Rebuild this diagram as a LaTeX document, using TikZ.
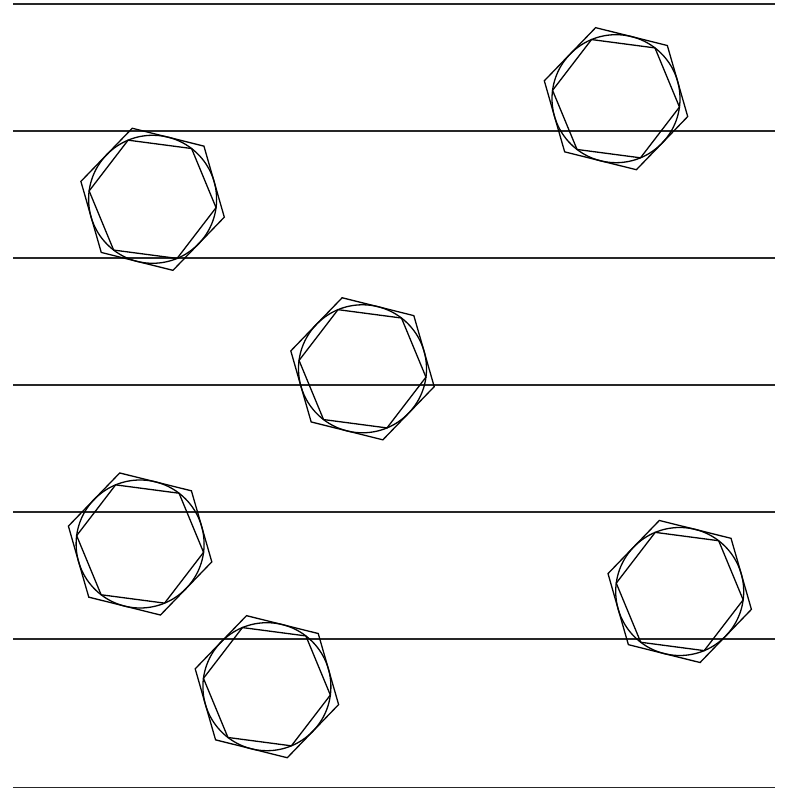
\documentclass[tikz,border=0pt]{standalone}
\begin{document}
\begin{tikzpicture}[x=1pt,y=1pt,
  shapeline/.style={draw=black,line width=1.3pt,line join=miter},
  rule/.style={draw=black!85,line width=1.6pt},
  nut/.pic={
    \draw[shapeline] (0,0) circle[radius=64pt];
    \draw[shapeline] (-7.5:64pt) -- (52.5:64pt) -- (112.5:64pt) -- (172.5:64pt) -- (232.5:64pt) -- (292.5:64pt) -- cycle;
    \draw[shapeline] (-14:73.9pt) -- (46:73.9pt) -- (106:73.9pt) -- (166:73.9pt) -- (226:73.9pt) -- (286:73.9pt) -- cycle;
  }]
\useasboundingbox (0,0) rectangle (786,789);
% horizontal rules
\foreach \y in {785,658,531,404,277,150,1.5}{
  \draw[rule] (13.3,\y) -- (775,\y);
}
% shape centres
\coordinate (c1) at (152.6,589.7);
\coordinate (c2) at (362.5,420.2);
\coordinate (c3) at (616,690.3);
\coordinate (c4) at (140.1,245);
\coordinate (c5) at (266.9,102.3);
\coordinate (c6) at (679.7,197.5);
\foreach \c in {c1,c2,c3,c4,c5,c6}{
  \pic at (\c) {nut};
}
\end{tikzpicture}
\end{document}
